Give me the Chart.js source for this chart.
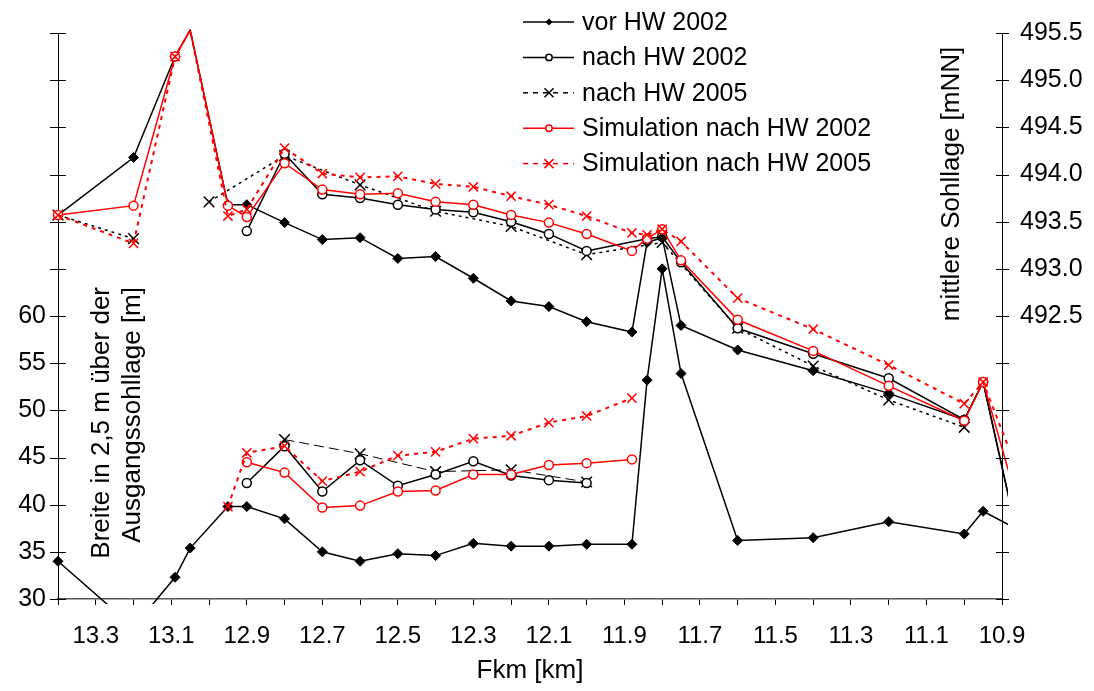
<!DOCTYPE html>
<html>
<head>
<meta charset="utf-8">
<title>Breite und mittlere Sohllage</title>
<script src="https://cdn.jsdelivr.net/npm/chart.js"></script>
<style>
  html, body { margin: 0; padding: 0; background: #fff; }
  #wrap { width: 1094px; height: 691px; }
</style>
</head>
<body>
<div id="wrap"><canvas id="myChart"></canvas></div>
<script>
'use strict'

// Fkm of the cross sections (vor HW 2002, nach HW 2002, simulations)
const km = [13.4, 13.2, 13.09, 13.05, 12.95, 12.9, 12.8, 12.7, 12.6, 12.5, 12.4, 12.3, 12.2, 12.1, 12.0,
  11.88, 11.84, 11.8, 11.75, 11.6, 11.4, 11.2, 11.0, 10.95, 10.85];
// Fkm of the 2005 survey (the null at 13.1 leaves a gap)
const km2005 = [13.4, 13.2, 13.1, 13.0, 12.8, 12.6, 12.4, 12.2, 12.0, 11.8, 11.6, 11.4, 11.2, 11.0];

// mittlere Sohllage [mNN] (right axis)
const sohleVor2002 = [493.57, 494.18, 495.25, 495.53, 493.68, 493.68, 493.49, 493.31, 493.33, 493.11, 493.13, 492.90, 492.66, 492.60, 492.44,
  492.33, 493.28, 493.33, 492.40, 492.14, 491.92, 491.68, 491.40, 491.80, 490.0];
const sohleNach2002 = [null, null, null, null, null, 493.40, 494.22, 493.79, 493.75, 493.68, 493.63, 493.60, 493.50, 493.37, 493.19,
  null, 493.32, 493.34, 493.07, 492.37, 492.10, 491.84, 491.40, 491.80, 490.0];
const sohleNach2005 = [493.57, 493.32, null, 493.71, 494.20, 493.89, 493.61, 493.45, 493.15, 493.28, 492.37, 491.97, 491.61, 491.32];
const sohleSim2002 = [493.57, 493.67, 495.25, 495.53, 493.67, 493.55, 494.12, 493.84, 493.79, 493.80, 493.71, 493.68, 493.57, 493.49, 493.37,
  493.19, 493.32, 493.42, 493.09, 492.46, 492.13, 491.76, 491.39, 491.80, 490.4];
const sohleSim2005 = [493.57, 493.27, 495.25, 495.53, 493.56, 493.63, 494.28, 494.01, 493.97, 493.98, 493.90, 493.87, 493.77, 493.68, 493.56,
  493.38, 493.36, 493.42, 493.29, 492.69, 492.36, 491.98, 491.57, 491.80, 490.77];

// Breite in 2,5 m ueber der Ausgangssohllage [m] (left axis)
const breiteVor2002 = [34.0, 27.0, 32.3, 35.4, 39.8, 39.8, 38.5, 35.0, 34.0, 34.8, 34.6, 35.9, 35.6, 35.6, 35.8,
  35.8, 53.2, 65.0, 53.9, 36.2, 36.5, 38.2, 36.9, 39.3, 37.2];
const breiteNach2002 = [null, null, null, null, null, 42.3, 46.2, 41.4, 44.7, 42.0, 43.2, 44.6, 43.1, 42.6, 42.3,
  null, null, null, null, null, null, null, null, null, null];
const breiteNach2005 = [null, null, null, null, 46.9, 45.4, 43.5, 43.7, 42.4, null, null, null, null, null];
const breiteSim2002 = [null, null, null, null, null, 44.5, 43.4, 39.7, 39.9, 41.4, 41.5, 43.2, 43.2, 44.2, 44.4,
  44.8, null, null, null, null, null, null, null, null, null];
const breiteSim2005 = [null, null, null, null, 39.8, 45.5, 46.2, 42.5, 43.5, 45.2, 45.6, 47.0, 47.3, 48.7, 49.4,
  51.3, null, null, null, null, null, null, null, null, null];

// axis ranges and ticks
const kmMin = 10.9;
const kmMax = 13.4;
const breiteMin = 30;
const breiteMax = 90;
const breiteLabelTop = 60;
const sohleMin = 489.5;
const sohleMax = 495.5;
const sohleLabelBottom = 492.5;

const legendNames = ['vor HW 2002', 'nach HW 2002', 'nach HW 2005', 'Simulation nach HW 2002', 'Simulation nach HW 2005'];

const RED = '#ff0000';
const BLACK = '#000000';
const FONT = "'Liberation Sans', Arial, sans-serif";

Chart.defaults.font.family = FONT;
Chart.defaults.font.size = 24;
Chart.defaults.color = BLACK;

function points(xs, ys) {
  return xs.map((x, i) => ({ x: x, y: ys[i] }));
}

// markers above the top of the axis are not drawn (the line still is)
function radiusUpTo(r) {
  return function (ctx) {
    return ctx.raw && ctx.raw.y > sohleMax ? 0 : r;
  };
}

function makeSet(label, xs, ys, axis, look) {
  return {
    label: label,
    data: points(xs, ys),
    yAxisID: axis,
    order: look.order,
    borderColor: look.color,
    borderWidth: look.width,
    borderDash: look.dash,
    pointStyle: look.mark,
    pointRadius: axis === 'ySohle' ? radiusUpTo(look.radius) : look.radius,
    pointBorderColor: look.color,
    pointBackgroundColor: look.fill,
    pointBorderWidth: look.markWidth,
    spanGaps: look.span,
    tension: 0,
    clip: { left: 8, right: 6, top: 4, bottom: 5 }
  };
}

const lookVor = { color: BLACK, width: 1.5, dash: [], mark: 'rectRot', radius: 5, fill: BLACK, markWidth: 1, order: 2, span: false };
const lookNach02 = { color: BLACK, width: 1.5, dash: [], mark: 'circle', radius: 4.5, fill: '#fff', markWidth: 1.5, order: 2, span: true };
const lookNach05 = { color: BLACK, width: 1.5, dash: [3, 4], mark: 'crossRot', radius: 7.5, fill: BLACK, markWidth: 1.5, order: 2, span: false };
const lookNach05Breite = { color: BLACK, width: 1, dash: [10, 5], mark: 'crossRot', radius: 7.5, fill: BLACK, markWidth: 1.5, order: 2, span: false };
const lookSim02 = { color: RED, width: 1.5, dash: [], mark: 'circle', radius: 4.5, fill: '#fff', markWidth: 1.5, order: 0, span: false };
const lookSim05 = { color: RED, width: 2, dash: [4, 5], mark: 'crossRot', radius: 6.5, fill: RED, markWidth: 1.5, order: 0, span: false };

const datasets = [
  makeSet(legendNames[4], km, sohleSim2005, 'ySohle', lookSim05),
  makeSet(legendNames[3], km, sohleSim2002, 'ySohle', lookSim02),
  makeSet(legendNames[4], km, breiteSim2005, 'yBreite', lookSim05),
  makeSet(legendNames[3], km, breiteSim2002, 'yBreite', lookSim02),
  makeSet(legendNames[0], km, sohleVor2002, 'ySohle', lookVor),
  makeSet(legendNames[1], km, sohleNach2002, 'ySohle', lookNach02),
  makeSet(legendNames[2], km2005, sohleNach2005, 'ySohle', lookNach05),
  makeSet(legendNames[0], km, breiteVor2002, 'yBreite', lookVor),
  makeSet(legendNames[1], km, breiteNach2002, 'yBreite', lookNach02),
  makeSet(legendNames[2], km2005, breiteNach2005, 'yBreite', lookNach05Breite)
];

// legend samples (drawn inside the plot)
const legendLooks = [
  { color: BLACK, dash: [], mark: 'diamond' },
  { color: BLACK, dash: [], mark: 'circle' },
  { color: BLACK, dash: [5, 5], mark: 'cross' },
  { color: RED, dash: [], mark: 'circle' },
  { color: RED, dash: [5, 5], mark: 'cross' }
];

function drawMark(ctx, mark, x, y, color) {
  ctx.save();
  ctx.setLineDash([]);
  ctx.strokeStyle = color;
  ctx.fillStyle = color;
  ctx.lineWidth = 1.5;
  ctx.beginPath();
  if (mark === 'diamond') {
    ctx.moveTo(x, y - 3.5);
    ctx.lineTo(x + 3.5, y);
    ctx.lineTo(x, y + 3.5);
    ctx.lineTo(x - 3.5, y);
    ctx.closePath();
    ctx.fill();
  } else if (mark === 'circle') {
    ctx.fillStyle = '#fff';
    ctx.arc(x, y, 3.2, 0, Math.PI * 2);
    ctx.fill();
    ctx.stroke();
  } else {
    ctx.moveTo(x - 4.5, y - 4.5);
    ctx.lineTo(x + 4.5, y + 4.5);
    ctx.moveTo(x + 4.5, y - 4.5);
    ctx.lineTo(x - 4.5, y + 4.5);
    ctx.stroke();
  }
  ctx.restore();
}

const extrasPlugin = {
  id: 'extras',
  afterDraw(chart) {
    const ctx = chart.ctx;
    const area = chart.chartArea;

    // crossing tick marks on both value axes
    const left = chart.scales.yBreite;
    const right = chart.scales.ySohle;
    ctx.save();
    ctx.strokeStyle = BLACK;
    ctx.lineWidth = 1;
    left.ticks.forEach(t => {
      const y = Math.round(left.getPixelForValue(t.value)) + 0.5;
      ctx.beginPath();
      ctx.moveTo(area.left - 8, y);
      ctx.lineTo(area.left + 8, y);
      ctx.stroke();
    });
    right.ticks.forEach(t => {
      const y = Math.round(right.getPixelForValue(t.value)) + 0.5;
      ctx.beginPath();
      ctx.moveTo(area.right - 6, y);
      ctx.lineTo(area.right + 7, y);
      ctx.stroke();
    });
    ctx.restore();

    // axis titles placed inside the plot
    ctx.save();
    ctx.fillStyle = BLACK;
    ctx.font = '26px ' + FONT;
    ctx.textBaseline = 'middle';
    ctx.save();
    ctx.translate(102, 287);
    ctx.rotate(-Math.PI / 2);
    ctx.textAlign = 'right';
    ctx.fillText('Breite in 2,5 m über der', 0, 0);
    ctx.fillText('Ausgangssohllage [m]', 0, 31);
    ctx.restore();
    ctx.save();
    ctx.translate(952, 184);
    ctx.rotate(-Math.PI / 2);
    ctx.textAlign = 'center';
    ctx.fillText('mittlere Sohllage [mNN]', 0, 0);
    ctx.restore();
    ctx.restore();

    // legend
    ctx.save();
    ctx.font = '25px ' + FONT;
    ctx.textBaseline = 'middle';
    ctx.textAlign = 'left';
    for (let i = 0; i < legendNames.length; i++) {
      const y = 22 + i * 35.4;
      const look = legendLooks[i];
      ctx.strokeStyle = look.color;
      ctx.lineWidth = 1.5;
      ctx.setLineDash(look.dash);
      ctx.beginPath();
      ctx.moveTo(523, y);
      ctx.lineTo(574, y);
      ctx.stroke();
      drawMark(ctx, look.mark, 549, y, look.color);
      ctx.fillStyle = BLACK;
      ctx.fillText(legendNames[i], 582, y + 1);
    }
    ctx.restore();
  }
};

const config = {
  type: 'line',
  data: { datasets: datasets },
  options: {
    responsive: true,
    maintainAspectRatio: false,
    animation: false,
    events: [],
    layout: { padding: { top: 23, left: 0, right: 0, bottom: 0 } },
    plugins: {
      legend: { display: false },
      tooltip: { enabled: false }
    },
    scales: {
      x: {
        type: 'linear',
        reverse: true,
        min: kmMin,
        max: kmMax,
        ticks: {
          stepSize: 0.1,
          autoSkip: false,
          maxRotation: 0,
          minRotation: 0,
          padding: 17,
          callback: v => (Math.round(v * 10) % 2 === 1 ? v.toFixed(1) : '')
        },
        grid: { drawOnChartArea: false, tickLength: 6, color: BLACK, lineWidth: 1 },
        border: { color: '#555', width: 1.5 },
        title: { display: true, text: 'Fkm [km]', font: { size: 26 }, padding: { top: 0, bottom: 5 } },
        afterFit: s => { s.height = 92; }
      },
      yBreite: {
        position: 'left',
        min: breiteMin,
        max: breiteMax,
        ticks: {
          stepSize: 5,
          padding: 12,
          font: { size: 25 },
          callback: v => (v <= breiteLabelTop ? v : '')
        },
        grid: { display: false, drawTicks: false },
        border: { color: BLACK, width: 1 },
        afterFit: s => { s.width = 58; }
      },
      ySohle: {
        position: 'right',
        min: sohleMin,
        max: sohleMax,
        ticks: {
          stepSize: 0.5,
          padding: 18,
          font: { size: 25 },
          callback: v => (v >= sohleLabelBottom ? v.toFixed(1) : '')
        },
        grid: { display: false, drawTicks: false },
        border: { color: BLACK, width: 1 },
        afterFit: s => { s.width = 92; }
      }
    }
  },
  plugins: [extrasPlugin]
};

const canvasChart = document.getElementById('myChart');
const myChart = new Chart(canvasChart, config);
</script>
</body>
</html>
